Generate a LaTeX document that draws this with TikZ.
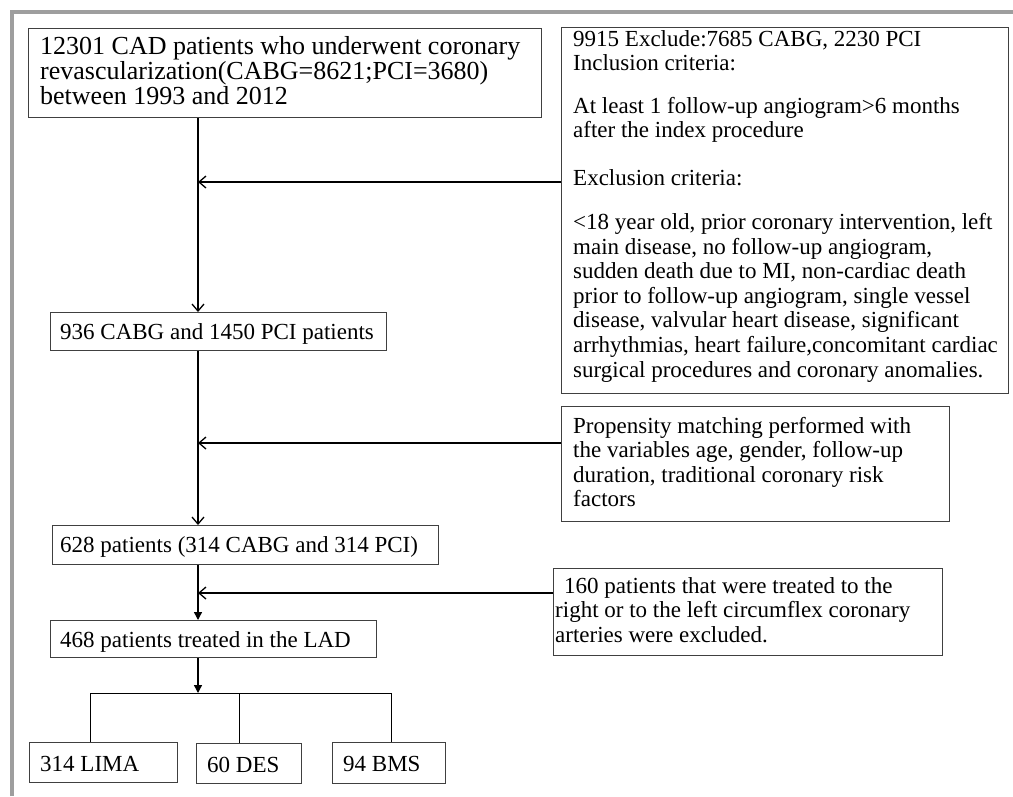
\documentclass[tikz,border=0pt]{standalone}
\usepackage{fontspec}
\setmainfont{Liberation Serif}
\usetikzlibrary{arrows.meta}
\begin{document}
\begin{tikzpicture}[x=1pt,y=-1pt,
  box/.style={draw=black!75, line width=1.2pt, anchor=north west, inner sep=0pt},
  txt/.style={anchor=base west, inner sep=0pt, align=left, font=\fontsize{23}{24.6}\selectfont},
  bigtxt/.style={anchor=base west, inner sep=0pt, align=left, font=\fontsize{26}{25.3}\selectfont},
  conn/.style={draw=black, line width=1.3pt},
  openarrow/.style={conn, -{Straight Barb[length=7pt,width=12pt]}},
  fillarrow/.style={conn, -{Triangle[length=8pt,width=8pt]}},
  thin/.style={draw=black, line width=1pt},
]
\useasboundingbox (0,0) rectangle (1013,796);
\fill[white] (0,0) rectangle (1013,796);
\draw[black!38, line width=4pt] (11.5,796) -- (11.5,11.5) -- (1013,11.5);

% boxes
\node[box, minimum width=513pt, minimum height=89pt] (b1) at (28,28) {};
\node[box, minimum width=447pt, minimum height=366pt] (b2) at (561,27) {};
\node[box, minimum width=336pt, minimum height=38pt] (b3) at (50,312) {};
\node[box, minimum width=388pt, minimum height=115pt] (bp) at (561,406) {};
\node[box, minimum width=386pt, minimum height=39pt] (b4) at (52,525) {};
\node[box, minimum width=389pt, minimum height=87pt] (bx) at (553,568) {};
\node[box, minimum width=326pt, minimum height=37pt] (b5) at (50,620) {};
\node[box, minimum width=148pt, minimum height=40pt] (l1) at (29,742) {};
\node[box, minimum width=105pt, minimum height=40pt] (l2) at (196,743) {};
\node[box, minimum width=113pt, minimum height=41pt] (l3) at (332,742) {};

% texts (anchor = baseline of the last line)
\node[bigtxt] (t1) at (40,104.9) {12301 CAD patients who underwent coronary\\revascularization(CABG=8621;PCI=3680)\\between 1993 and 2012};
\node[txt] (t2a) at (573,70.6) {9915 Exclude:7685 CABG, 2230 PCI\\Inclusion criteria:};
\node[txt] (t2b) at (573,137.6) {At least 1 follow-up angiogram>6 months\\after the index procedure};
\node[txt] (t2c) at (573,185) {Exclusion criteria:};
\node[txt] (t2d) at (573,377.1) {<18 year old, prior coronary intervention, left\\main disease, no follow-up angiogram,\\sudden death due to MI, non-cardiac death\\prior to follow-up angiogram, single vessel\\disease, valvular heart disease, significant\\arrhythmias, heart failure,concomitant cardiac\\surgical procedures and coronary anomalies.};
\node[txt] (t3) at (60,339) {936 CABG and 1450 PCI patients};
\node[txt] (tp) at (573,506.8) {Propensity matching performed with\\the variables age, gender, follow-up\\duration, traditional coronary risk\\factors};
\node[txt] (t4) at (60,552) {628 patients (314 CABG and 314 PCI)};
\node[txt] (tx) at (555,642.2) {\hspace*{9pt}160 patients that were treated to the\\right or to the left circumflex coronary\\arteries were excluded.};
\node[txt] (t5) at (60,647) {468 patients treated in the LAD};
\node[txt] (tl1) at (40,771) {314 LIMA};
\node[txt] (tl2) at (207,772) {60 DES};
\node[txt] (tl3) at (343,771) {94 BMS};

% connectors
\coordinate (mx) at (198,0);
\coordinate (s1) at (198,182);
\coordinate (s2) at (198,443);
\coordinate (s3) at (198,593);
\coordinate (br) at (198,693);
\coordinate (j1) at (90,693);
\coordinate (j2) at (239,693);
\coordinate (j3) at (391,693);

\draw[openarrow] (b1.south -| mx) -- (b3.north -| mx);
\draw[openarrow] (b2.west |- s1) -- (s1);
\draw[openarrow] (b3.south -| mx) -- (b4.north -| mx);
\draw[openarrow] (bp.west |- s2) -- (s2);
\draw[fillarrow] (b4.south -| mx) -- (b5.north -| mx);
\draw[openarrow] (bx.west |- s3) -- (s3);
\draw[fillarrow] (b5.south -| mx) -- (br);
\draw[thin] (j1) -- (j3);
\draw[thin] (j1) -- (l1.north -| j1);
\draw[thin] (j2) -- (l2.north -| j2);
\draw[thin] (j3) -- (l3.north -| j3);
\end{tikzpicture}
\end{document}
